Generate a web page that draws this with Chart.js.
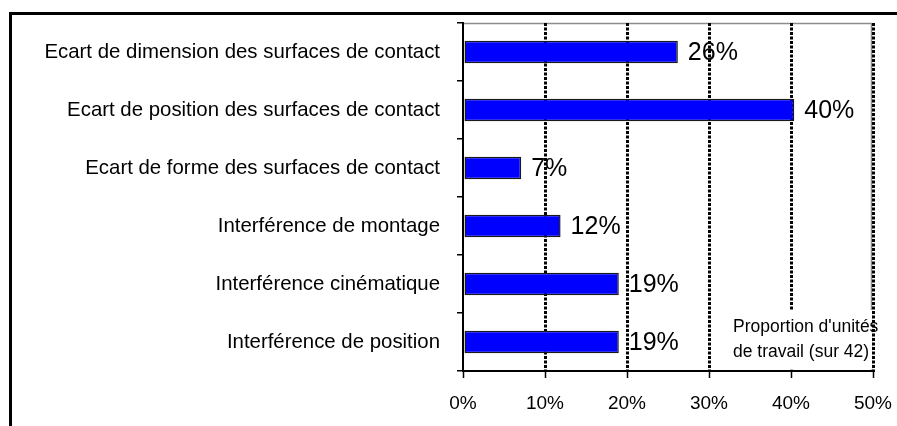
<!DOCTYPE html>
<html>
<head>
<meta charset="utf-8">
<script src="https://cdn.jsdelivr.net/npm/chart.js@4/dist/chart.umd.min.js"></script>
<style>
  html, body { margin: 0; padding: 0; background: #ffffff; }
  canvas { display: block; }
</style>
</head>
<body>
<canvas id="c" width="897" height="426"></canvas>
<script>
const categories = [
  "Ecart de dimension des surfaces de contact",
  "Ecart de position des surfaces de contact",
  "Ecart de forme des surfaces de contact",
  "Interférence de montage",
  "Interférence cinématique",
  "Interférence de position"
];
const proportions = [26.2, 40.4, 7.1, 11.9, 19.0, 19.0];
const xTickValues = [0, 10, 20, 30, 40, 50];
const noteLines = ["Proportion d'unités", "de travail (sur 42)"];

const FONT = '"Liberation Sans", Arial, Helvetica, sans-serif';

const framePlugin = {
  id: 'frame',
  beforeDraw(chart) {
    const ctx = chart.ctx;
    const a = chart.chartArea;
    ctx.save();
    ctx.fillStyle = '#ffffff';
    ctx.fillRect(0, 0, chart.width, chart.height);
    ctx.fillStyle = '#000000';
    ctx.fillRect(9, 12, 3, chart.height - 12);
    ctx.fillRect(9, 12, chart.width - 9, 3);
    // plot-area border (top and right), grey
    ctx.strokeStyle = '#8c8c8c';
    ctx.lineWidth = 1.5;
    ctx.beginPath();
    ctx.moveTo(a.left, a.top + 0.5);
    ctx.lineTo(a.right - 1.5, a.top + 0.5);
    ctx.lineTo(a.right - 1.5, a.bottom);
    ctx.stroke();
    ctx.restore();
  },
  beforeDatasetsDraw(chart) {
    const ctx = chart.ctx;
    const a = chart.chartArea;
    const xs = chart.scales.x;
    ctx.save();
    // note box (white background hiding gridlines)
    const bx = xs.getPixelForValue(30) + 3;
    const by = a.bottom - 61;
    ctx.fillStyle = '#ffffff';
    ctx.fillRect(bx, by, a.right - 1 - bx, a.bottom - 1.5 - by);
    ctx.fillStyle = '#000000';
    ctx.font = '17.5px ' + FONT;
    ctx.textAlign = 'left';
    ctx.textBaseline = 'alphabetic';
    const tx = xs.getPixelForValue(30) + 24;
    ctx.fillText(noteLines[0], tx, by + 22);
    ctx.fillText(noteLines[1], tx, by + 47);
    ctx.restore();
  },
  afterDatasetsDraw(chart) {
    const ctx = chart.ctx;
    const meta = chart.getDatasetMeta(0);
    ctx.save();
    ctx.fillStyle = '#000000';
    ctx.font = '25px ' + FONT;
    ctx.textAlign = 'left';
    ctx.textBaseline = 'middle';
    meta.data.forEach((bar, i) => {
      const v = chart.data.datasets[0].data[i];
      ctx.fillText(Math.round(v) + '%', bar.x + 10, bar.y + 1.5);
    });
    ctx.restore();
  }
};

new Chart(document.getElementById('c'), {
  type: 'bar',
  data: {
    labels: categories,
    datasets: [{
      data: proportions,
      backgroundColor: '#0000ff',
      borderColor: '#1a1a1a',
      borderWidth: 1.5,
      borderSkipped: false,
      barPercentage: 0.39,
      categoryPercentage: 1.0
    }]
  },
  options: {
    indexAxis: 'y',
    responsive: false,
    animation: false,
    devicePixelRatio: 1,
    layout: { padding: { left: 0, right: 24, top: 23, bottom: 0 } },
    plugins: { legend: { display: false }, tooltip: { enabled: false } },
    scales: {
      x: {
        min: 0,
        max: 50,
        afterBuildTicks(scale) { scale.ticks = xTickValues.map(v => ({ value: v })); },
        afterFit(scale) {
          scale.height = 55;
          scale.paddingLeft = 0;
          scale.paddingRight = 0;
        },
        border: { display: true, color: '#000000', width: 2, dash: [3, 1.5] },
        grid: {
          color: (c) => (c.tick && c.tick.value === 0) ? 'rgba(0,0,0,0)' : '#000000',
          tickColor: '#000000',
          lineWidth: 3,
          tickBorderDash: [],
          tickLength: 7,
          tickWidth: 1.5,
          drawOnChartArea: true
        },
        ticks: {
          color: '#000000',
          font: { family: FONT, size: 19 },
          padding: 14,
          maxRotation: 0,
          callback: (v) => v + '%'
        }
      },
      y: {
        afterFit(scale) {
          scale.width = 463;
          scale.paddingTop = 0;
          scale.paddingBottom = 0;
        },
        border: { display: true, color: '#000000', width: 2 },
        grid: {
          offset: true,
          drawOnChartArea: false,
          color: '#000000',
          lineWidth: 1.5,
          tickLength: 6
        },
        ticks: {
          color: '#000000',
          font: { family: FONT, size: 20.4 },
          padding: 17
        }
      }
    }
  },
  plugins: [framePlugin]
});
</script>
</body>
</html>
